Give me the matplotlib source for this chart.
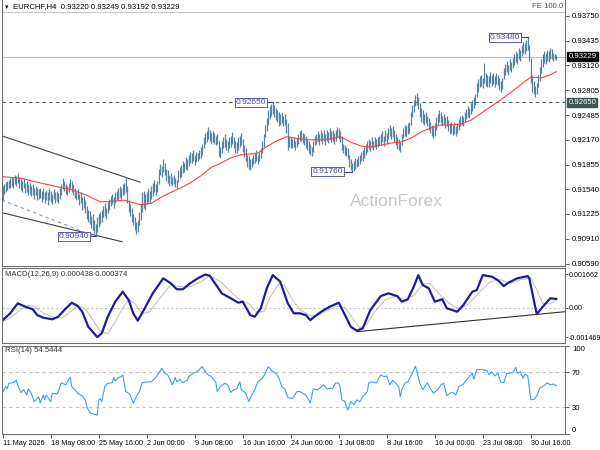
import numpy as np
import matplotlib.pyplot as plt
from matplotlib.transforms import blended_transform_factory

plt.rcParams['font.family'] = ['Liberation Sans', 'DejaVu Sans']

# EURCHF H4 bars, price x 10000, one row per trading day (6 bars)
bar_hi = [
    9158, 9160, 9163, 9165, 9166, 9168,
    9170, 9168, 9172, 9171, 9175, 9170,
    9167, 9165, 9168, 9162, 9164, 9160,
    9162, 9158, 9160, 9156, 9158, 9155,
    9154, 9156, 9152, 9155, 9150, 9153,
    9150, 9155, 9152, 9148, 9154, 9150,
    9152, 9149, 9155, 9160, 9168, 9165,
    9160, 9158, 9162, 9167, 9165, 9160,
    9156, 9152, 9154, 9148, 9150, 9144,
    9145, 9140, 9133, 9128, 9126, 9120,
    9122, 9115, 9110, 9118, 9122, 9125,
    9128, 9132, 9136, 9130, 9138, 9142,
    9145, 9148, 9144, 9150, 9152, 9155,
    9158, 9156, 9160, 9162, 9170, 9158,
    9140, 9135, 9130, 9122, 9118, 9112,
    9115, 9125, 9135, 9150, 9152, 9148,
    9150, 9155, 9152, 9158, 9162, 9166,
    9160, 9164, 9180, 9186, 9184, 9192,
    9188, 9180, 9178, 9172, 9175, 9170,
    9172, 9168, 9166, 9178, 9182, 9185,
    9190, 9188, 9195, 9192, 9198, 9202,
    9200, 9204, 9198, 9202, 9200, 9204,
    9208, 9212, 9220, 9226, 9228, 9233,
    9230, 9226, 9228, 9226, 9222, 9225,
    9216, 9208, 9215, 9220, 9224, 9218,
    9216, 9220, 9222, 9227, 9220, 9215,
    9214, 9220, 9222, 9226, 9218, 9210,
    9206, 9198, 9196, 9192, 9194, 9198,
    9200, 9204, 9198, 9202, 9206, 9215,
    9225, 9236, 9245, 9255, 9260, 9263,
    9265, 9262, 9258, 9255, 9252, 9250,
    9252, 9248, 9250, 9244, 9238, 9222,
    9220, 9218, 9221, 9216, 9219, 9225,
    9228, 9230, 9226, 9224, 9222, 9218,
    9215, 9212, 9208, 9215, 9222, 9225,
    9228, 9224, 9230, 9226, 9229, 9225,
    9230, 9227, 9232, 9228, 9230, 9226,
    9230, 9233, 9232, 9228, 9222, 9212,
    9210, 9208, 9206, 9198, 9192, 9188,
    9190, 9194, 9192, 9196, 9198, 9202,
    9204, 9208, 9212, 9215, 9218, 9216,
    9220, 9216, 9221, 9218, 9220, 9222,
    9225, 9228, 9222, 9230, 9226, 9232,
    9236, 9232, 9234, 9230, 9225, 9220,
    9218, 9214, 9225, 9232, 9236, 9234,
    9238, 9240, 9252, 9262, 9268, 9274,
    9277, 9272, 9264, 9258, 9255, 9250,
    9252, 9248, 9245, 9240, 9236, 9234,
    9238, 9246, 9250, 9255, 9252, 9248,
    9250, 9246, 9248, 9242, 9238, 9240,
    9236, 9240, 9234, 9238, 9244, 9248,
    9249, 9246, 9252, 9256, 9260, 9258,
    9264, 9268, 9272, 9275, 9290, 9294,
    9298, 9300, 9296, 9315, 9302, 9300,
    9298, 9304, 9300, 9302, 9298, 9302,
    9300, 9296, 9292, 9296, 9308, 9314,
    9318, 9312, 9320, 9316, 9322, 9326,
    9330, 9328, 9334, 9332, 9338, 9342,
    9340, 9344, 9348, 9338, 9322, 9300,
    9292, 9286, 9290, 9300, 9310, 9320,
    9326, 9330, 9328, 9332, 9330, 9334,
    9333, 9328, 9327, 9325,
]
bar_lo = [
    9140, 9148, 9150, 9153, 9155, 9156,
    9158, 9155, 9160, 9158, 9162, 9156,
    9153, 9150, 9155, 9149, 9150, 9146,
    9148, 9145, 9147, 9142, 9146, 9140,
    9141, 9143, 9138, 9142, 9136, 9140,
    9134, 9140, 9138, 9135, 9141, 9137,
    9139, 9136, 9142, 9146, 9154, 9152,
    9148, 9146, 9150, 9155, 9150, 9146,
    9143, 9140, 9141, 9134, 9137, 9128,
    9130, 9124, 9116, 9112, 9110, 9104,
    9102, 9098, 9094, 9100, 9106, 9110,
    9112, 9118, 9120, 9116, 9124, 9128,
    9132, 9135, 9130, 9137, 9140, 9142,
    9144, 9142, 9146, 9148, 9150, 9136,
    9125, 9120, 9112, 9108, 9102, 9097,
    9100, 9108, 9115, 9125, 9130, 9128,
    9135, 9138, 9136, 9142, 9145, 9150,
    9146, 9150, 9160, 9172, 9170, 9176,
    9172, 9165, 9162, 9158, 9160, 9158,
    9160, 9157, 9155, 9163, 9168, 9170,
    9175, 9176, 9180, 9178, 9184, 9188,
    9188, 9190, 9185, 9189, 9190, 9192,
    9194, 9198, 9206, 9212, 9214, 9218,
    9216, 9212, 9214, 9212, 9210, 9212,
    9196, 9194, 9200, 9206, 9208, 9204,
    9202, 9206, 9208, 9212, 9206, 9200,
    9200, 9204, 9208, 9210, 9202, 9195,
    9190, 9182, 9180, 9178, 9182, 9186,
    9188, 9190, 9186, 9190, 9194, 9200,
    9208, 9220, 9228, 9236, 9244, 9248,
    9250, 9246, 9242, 9240, 9235, 9236,
    9238, 9234, 9236, 9226, 9204, 9208,
    9207, 9206, 9208, 9204, 9208, 9212,
    9215, 9216, 9213, 9210, 9206, 9204,
    9200, 9198, 9196, 9202, 9210, 9212,
    9214, 9211, 9216, 9212, 9215, 9211,
    9216, 9213, 9218, 9214, 9216, 9212,
    9216, 9220, 9218, 9214, 9204, 9200,
    9198, 9196, 9192, 9182, 9178, 9176,
    9177, 9180, 9182, 9184, 9186, 9190,
    9190, 9194, 9198, 9202, 9205, 9203,
    9206, 9204, 9208, 9205, 9208, 9210,
    9210, 9214, 9209, 9216, 9212, 9218,
    9222, 9218, 9220, 9214, 9210, 9205,
    9204, 9201, 9210, 9219, 9222, 9220,
    9224, 9226, 9236, 9246, 9252, 9260,
    9262, 9256, 9246, 9240, 9238, 9236,
    9238, 9234, 9230, 9226, 9222, 9219,
    9222, 9230, 9236, 9240, 9238, 9234,
    9236, 9232, 9234, 9228, 9224, 9226,
    9223, 9225, 9222, 9226, 9230, 9234,
    9236, 9234, 9240, 9244, 9246, 9245,
    9250, 9254, 9258, 9262, 9272, 9278,
    9284, 9286, 9283, 9290, 9286, 9284,
    9285, 9290, 9286, 9288, 9284, 9288,
    9287, 9280, 9278, 9282, 9294, 9300,
    9304, 9300, 9306, 9303, 9308, 9312,
    9316, 9314, 9320, 9318, 9324, 9328,
    9326, 9330, 9332, 9318, 9290, 9278,
    9276, 9272, 9275, 9284, 9292, 9302,
    9310, 9315, 9314, 9318, 9316, 9320,
    9320, 9318, 9320, 9319,
]

# moving average (red), read every few bars
ma_bar = [0, 12, 25, 39, 45, 55, 65, 70, 75, 81, 85, 92, 99, 105, 112, 119, 125, 132,
          139, 145, 152, 159, 165, 170, 175, 181, 189, 199, 205, 212, 219, 225, 232,
          239, 245, 252, 259, 265, 272, 279, 285, 292, 299, 305, 312, 319, 325, 332,
          339, 345, 352, 359, 365, 369]
ma_pts = [9170, 9168, 9162, 9156, 9154, 9147, 9138, 9138, 9139, 9140, 9138, 9134, 9136,
          9143, 9150, 9156, 9162, 9171, 9182, 9187, 9194, 9198, 9199, 9200, 9207, 9214,
          9221, 9218, 9217, 9217, 9218, 9221, 9214, 9209, 9208, 9210, 9213, 9214, 9219,
          9227, 9232, 9236, 9236, 9237, 9242, 9251, 9259, 9268, 9278, 9287, 9297, 9296,
          9300, 9304]

# MACD(12,26,9)
macd_bar = [0, 5, 10, 15, 20, 23, 27, 33, 37, 41,
            46, 50, 53, 57, 63, 66, 70, 75, 80, 84,
            87, 90, 94, 100, 107, 112, 116, 120, 125, 130,
            135, 138, 143, 146, 152, 157, 160, 165, 168, 172,
            176, 180, 185, 190, 194, 198, 202, 205, 210, 214,
            218, 224, 227, 232, 236, 240, 245, 252, 257, 263,
            266, 270, 274, 277, 280, 284, 288, 293, 296, 303,
            307, 313, 316, 320, 326, 330, 334, 337, 343, 350,
            351, 354, 356, 360, 365, 369]
macd_val = [-0.00062, -0.00028, 0.00022, 0.00005, -0.00008, -0.00037, -0.0005, -0.00058, -0.00045, -0.00012,
            0.00025, 0.00008, -0.0002, -0.00095, -0.00147, -0.00128, -0.00045, 0.0003, 0.0008, 0.00038,
            -0.00028, -0.00065, -0.00012, 0.00072, 0.00147, 0.00122, 0.00092, 0.00092, 0.00122, 0.00147,
            0.00166, 0.0016, 0.00105, 0.00072, 0.00047, 0.00025, 0.0003, -0.00037, -0.00045, -0.00003,
            0.00097, 0.00163, 0.0013, 0.00022, -0.00028, -0.00028, -0.00037, -0.00062, -0.00032, -0.00012,
            0.00005, 0.00025, -0.0002, -0.00095, -0.00115, -0.00103, -0.00012, 0.00058, 0.00072, 0.00058,
            0.0003, 0.00042, 0.00105, 0.00163, 0.00113, 0.00097, 0.0003, 0.00042, -0.00003, -0.0002,
            0.00013, 0.0008, 0.00088, 0.00163, 0.00155, 0.00138, 0.00108, 0.00125, 0.00147, 0.00158,
            0.00147, 0.00038, -0.00032, 0.00005, 0.00047, 0.000438]
sig_bar = [0, 5, 12, 17, 21, 28, 35, 40, 45, 50,
           55, 60, 65, 70, 75, 80, 84, 88, 93, 98,
           105, 112, 118, 125, 132, 138, 145, 152, 158, 164,
           169, 174, 178, 184, 188, 193, 198, 205, 210, 217,
           224, 228, 233, 238, 243, 248, 255, 262, 268, 274,
           280, 285, 292, 298, 305, 312, 318, 325, 332, 338,
           345, 352, 356, 360, 365, 369]
sig_val = [-0.0007, -0.0005, -0.0001, 0.00012, 0.00005, -0.0003, -0.00052, -0.0005, -0.0002, 0.00012,
           -0.00005, -0.0006, -0.0012, -0.0013, -0.0007, 0.0, 0.0004, 0.0002, -0.0003, -0.0002,
           0.0005, 0.00115, 0.00105, 0.00105, 0.0013, 0.0016, 0.0013, 0.0008, 0.0004, 0.0002,
           -0.0002, -0.0002, 0.0005, 0.0012, 0.0011, 0.0004, -0.0001, -0.0004, -0.0004, -0.0001,
           0.0001, 0.0, -0.0005, -0.001, -0.0008, -0.0002, 0.0004, 0.0006, 0.0004, 0.0006,
           0.0012, 0.0012, 0.0006, 0.0002, -0.0001, 0.0003, 0.0008, 0.0013, 0.0014, 0.0012,
           0.0014, 0.0015, 0.0009, 0.0002, 0.0002, 0.000374]

# RSI(14)
rsi_bar = [0, 2, 3, 4, 7, 9, 10, 12, 14, 16,
           17, 19, 21, 24, 25, 27, 28, 29, 32, 33,
           36, 37, 39, 42, 44, 45, 46, 48, 50, 53,
           55, 56, 58, 60, 63, 64, 65, 66, 68, 70,
           73, 74, 75, 77, 79, 80, 82, 84, 85, 87,
           89, 91, 93, 96, 99, 101, 104, 106, 108, 110,
           113, 115, 116, 118, 120, 123, 124, 127, 129, 131,
           133, 135, 137, 139, 142, 143, 145, 148, 150, 152,
           154, 156, 158, 159, 162, 164, 166, 168, 170, 173,
           175, 177, 179, 182, 184, 186, 188, 190, 193, 194,
           196, 198, 202, 205, 207, 210, 214, 216, 220, 222,
           224, 225, 226, 228, 230, 232, 234, 236, 238, 240,
           243, 244, 246, 249, 252, 254, 256, 258, 260, 262,
           264, 265, 266, 268, 270, 273, 275, 276, 278, 280,
           283, 284, 287, 290, 292, 294, 296, 298, 300, 302,
           304, 307, 310, 313, 314, 316, 320, 323, 324, 326,
           328, 330, 332, 334, 336, 340, 342, 343, 345, 347,
           348, 350, 352, 354, 356, 358, 360, 363, 365, 367,
           369]
rsi_val = [47.8, 53.5, 51, 57.4, 58, 61, 55.6, 46.7, 50, 44,
           51, 46, 36.4, 42, 35, 44, 38.5, 44, 36.4, 46,
           45, 48, 58, 55.6, 62, 64, 53.5, 50, 46, 43,
           38.5, 30.6, 23.8, 22.5, 21, 38.5, 40, 36.4, 53.5, 57.4,
           58, 64, 60, 64, 65, 67, 47.8, 46, 44, 34.5,
           42, 47.8, 58, 59, 59, 62, 68.8, 74.5, 68.8, 67,
           55.6, 64, 59, 62, 58, 61, 65, 68.8, 70.6, 73,
           76.4, 70.6, 67, 65, 59, 47.8, 53.5, 57.4, 55.6, 47,
           50, 51, 59, 50, 46, 36.4, 44, 50, 59, 63,
           68.8, 76.4, 72, 68.8, 64, 53.5, 51, 41.3, 40, 42,
           47.8, 48, 44, 35.2, 51, 50, 55.6, 51, 52, 58,
           57.4, 52, 38.5, 36.4, 26.9, 36.4, 33, 38.5, 36.4, 42,
           47.8, 58, 59, 58, 67, 65, 65.7, 55.6, 61, 57.4,
           53.5, 42, 50, 57.4, 59, 68.8, 77, 72, 57.4, 50,
           58, 54.5, 46, 50, 55.6, 57.4, 43, 46, 47, 44,
           53.5, 56.5, 63, 68.8, 62, 73, 73, 71.5, 67, 70.6,
           65.7, 68.8, 59, 58, 68.8, 69.5, 75.6, 68.8, 70.6, 63,
           68, 65.7, 38.5, 39, 43, 52, 53.5, 58, 55.6, 56.5,
           54.5444]

# drawn objects
chan_up_bar, chan_up = [-0.5, 91.5], [9222, 9163]
chan_lo_bar, chan_lo = [-0.5, 79.5], [9124, 9087]
chan_mid_bar, chan_mid = [-0.5, 61.5], [9140, 9094]
macd_tl_bar, macd_tl = [236, 374.8], [-0.0012, -0.0002]
swing_px = [0.93480, 0.92650, 0.91760, 0.90940]
swing_box_bar = [344.8, 175.5, 226.8, 57.5]
swing_bar = [350, 180, 233, 62]

price_ticks = [0.93750, 0.93435, 0.93120, 0.92805, 0.92485, 0.92170,
               0.91855, 0.91540, 0.91225, 0.90910, 0.90590]
last_price = 0.93229
level_price = 0.92650
top_line = 0.93797
time_bars = [0, 32, 64, 96, 128, 160, 192, 224, 256, 288, 320, 352]
time_labels = ['11 May 2026', '18 May 08:00', '25 May 16:00', '2 Jun 00:00',
               '9 Jun 08:00', '16 Jun 16:00', '24 Jun 00:00', '1 Jul 08:00',
               '8 Jul 16:00', '16 Jul 00:00', '23 Jul 08:00', '30 Jul 16:00']

W, H = 600, 450
fig = plt.figure(figsize=(6, 4.5), dpi=100)


def box(x0, y0, x1, y1):
    return [x0 / W, 1 - y1 / H, (x1 - x0) / W, (y1 - y0) / H]


ax1 = fig.add_axes(box(2, 0, 565, 266))
ax2 = fig.add_axes(box(2, 267.5, 565, 342.5))
ax3 = fig.add_axes(box(2, 346, 565, 433.5))

FS = 5.6
for ax in (ax1, ax2, ax3):
    ax.set_xlim(-0.5, 374.8)
    ax.yaxis.tick_right()
    ax.tick_params(axis='y', direction='out', length=3, pad=2, labelsize=FS,
                   color='#404040', width=0.6)
    ax.tick_params(axis='x', bottom=False, labelbottom=False)
    for s in ax.spines.values():
        s.set_color('#707070')
        s.set_linewidth(0.8)
ax1.spines['top'].set_visible(False)

# main price panel
hi = np.array(bar_hi) / 10000
lo = np.array(bar_lo) / 10000
idx = np.arange(len(hi))
ax1.set_ylim(0.90560, 0.93954)
ax1.axhline(top_line, color='#c8c8c8', lw=0.8)
ax1.axhline(last_price, color='#c0c0c0', lw=0.8)
ax1.axhline(level_price, color='#4d6666', lw=0.8, ls=(0, (3, 3)))
ax1.plot(np.array(chan_up_bar), np.array(chan_up) / 10000, color='#404040', lw=0.8)
ax1.plot(np.array(chan_lo_bar), np.array(chan_lo) / 10000, color='#404040', lw=0.8)
ax1.plot(np.array(chan_mid_bar), np.array(chan_mid) / 10000, color='#7f9f9f', lw=0.8,
         ls=(0, (3, 3)))
ax1.plot(ma_bar, np.array(ma_pts) / 10000, color='#ff4040', lw=0.8, zorder=3)
ax1.vlines(idx, lo, hi, color='#5784a1', lw=0.9, zorder=2)
ax1.set_yticks(price_ticks)
ax1.set_yticklabels(['%.5f' % p for p in price_ticks])

for p, xb, xe in zip(swing_px, swing_box_bar, swing_bar):
    ax1.plot([xb, xe], [p, p], color='#3a3aa0', lw=0.8, zorder=4)
    ax1.text(xb, p, '%.5f' % p, ha='right', va='center', fontsize=6, color='#4a4aa8',
             zorder=5, bbox=dict(boxstyle='square,pad=0.12', fc='white', ec='#5a5ab8', lw=0.7))

tr1 = blended_transform_factory(ax1.transAxes, ax1.transData)
ax1.text(1.006, last_price, '%.5f' % last_price, transform=tr1, ha='left', va='center',
         fontsize=FS, color='white', bbox=dict(boxstyle='square,pad=0.15', fc='black', ec='black'))
ax1.text(1.006, level_price, '%.5f' % level_price, transform=tr1, ha='left', va='center',
         fontsize=FS, color='white', bbox=dict(boxstyle='square,pad=0.15', fc='#3d5555', ec='#3d5555'))
ax1.text(0.70, 0.244, 'ActionForex', transform=ax1.transAxes, ha='center', va='center',
         fontsize=12.5, color='#c8c8c8')

# MACD panel
ax2.set_ylim(-0.00174, 0.00201)
ax2.axhline(0, color='#c8c8c8', lw=0.8, ls=(0, (2, 2)))
ax2.plot(sig_bar, sig_val, color='#c4c4c4', lw=0.8)
ax2.plot(macd_bar, macd_val, color='#1c1c9c', lw=1.6)
ax2.plot(macd_tl_bar, macd_tl, color='#303030', lw=0.8)
ax2.set_yticks([-0.001469, 0, 0.001662])
ax2.set_yticklabels(['-0.001469', '0.00', '0.001662'])
ax2.tick_params(axis='y', length=2, pad=0.8, labelsize=5.1)

# RSI panel
ax3.set_ylim(0, 100)
for lv in (30, 70):
    ax3.axhline(lv, color='#c0c0c0', lw=0.8, ls=(0, (3, 3)))
ax3.plot(rsi_bar, rsi_val, color='#3d9bff', lw=0.8)
ax3.set_yticks([0, 30, 70, 100])
ax3.set_yticklabels(['0', '30', '70', '100'])
labs = ax3.get_yticklabels()
labs[0].set_va('bottom')
labs[-1].set_va('top')
ax3.set_xticks(time_bars)
ax3.set_xticklabels(time_labels, ha='left')
ax3.tick_params(axis='x', bottom=True, labelbottom=True, direction='out', length=3,
                pad=1.5, labelsize=5.2, color='#404040', width=0.6)

# header texts
fig.text(4 / W, 1 - 7 / H, '\u25bc', fontsize=4, va='center', color='black')
fig.text(13 / W, 1 - 7 / H, 'EURCHF,H4  0.93220 0.93249 0.93192 0.93229', fontsize=FS,
         va='center', color='black')
fig.text(563 / W, 1 - 7 / H, 'FE 100.0', fontsize=FS, va='center', ha='right', color='#505050')
fig.text(5 / W, 1 - 275 / H, 'MACD(12,26,9) 0.000438 0.000374', fontsize=FS, va='center',
         color='#303030')
fig.text(5 / W, 1 - 351 / H, 'RSI(14) 54.5444', fontsize=FS, va='center', color='#303030')

fig.savefig('out.png', dpi=100, facecolor='white')
